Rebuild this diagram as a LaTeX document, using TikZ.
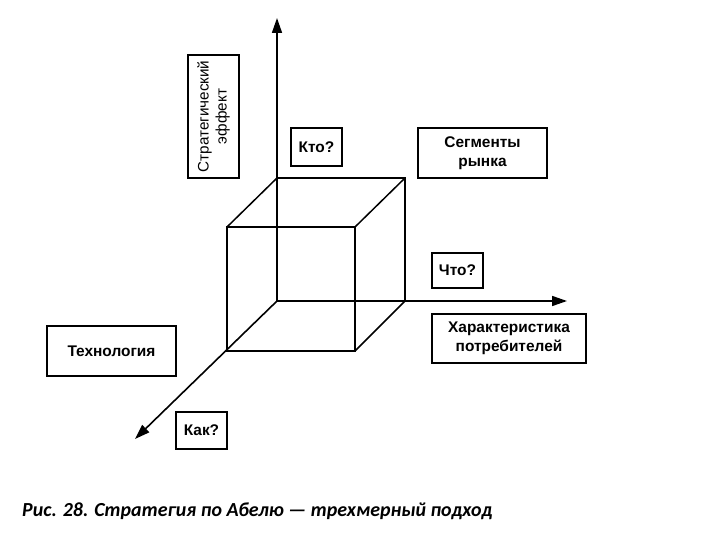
\documentclass[tikz,border=0pt]{standalone}
\usepackage{fontspec}
\setmainfont{Liberation Sans}
\newfontfamily\capfont{Carlito}
\usetikzlibrary{arrows.meta}
\begin{document}
\begin{tikzpicture}[x=1bp,y=-1bp,
  box/.style={draw, line width=1.6bp, inner sep=0pt, align=center,
    font=\bfseries\fontsize{15.5}{19}\selectfont},
  rbox/.style={draw, line width=1.6bp, inner sep=0pt, align=center,
    font=\fontsize{15.3}{18}\selectfont, rotate=90},
  ax/.style={line width=1.6bp, -{Triangle[length=15bp,width=10bp]}},
  cube/.style={line width=1.5bp, line join=miter}]
\useasboundingbox (0,0) rectangle (720,540);
% cube corners
\coordinate (O) at (277,301);
\coordinate (B1) at (277,178);
\coordinate (B2) at (405,178);
\coordinate (B3) at (405,301);
\coordinate (F1) at (227,227);
\coordinate (F2) at (355,227);
\coordinate (F3) at (355,351);
\coordinate (F4) at (227,351);
\coordinate (Yend) at (277,18);
\coordinate (Xend) at (567,301);
\coordinate (Zend) at (135,439);
% axes
\draw[ax] (O) -- (Yend);
\draw[ax] (O) -- (Xend);
\draw[ax] (O) -- (Zend);
% cube
\draw[cube] (B1) -- (B2) -- (B3);
\draw[cube] (F1) -- (F2) -- (F3) -- (F4) -- cycle;
\draw[cube] (B1) -- (F1);
\draw[cube] (B2) -- (F2);
\draw[cube] (B3) -- (F3);
% labels
\node[rbox, minimum width=123bp, minimum height=51bp] (eff) at (213.5,116.5) {Стратегический\\эффект};
\node[box, minimum width=51bp, minimum height=38bp] (who) at (316.5,147) {Кто?};
\node[box, minimum width=129bp, minimum height=50bp] (seg) at (482.5,153) {Сегменты\\рынка};
\node[box, minimum width=51bp, minimum height=35bp] (what) at (457.5,270.5) {Что?};
\node[box, minimum width=154bp, minimum height=49bp] (char) at (509,338.5) {Характеристика\\потребителей};
\node[box, minimum width=129bp, minimum height=50bp] (tech) at (111.5,351) {Технология};
\node[box, minimum width=51bp, minimum height=37bp] (how) at (201.5,430.5) {Как?};
\node[anchor=base west, inner sep=0pt, font=\capfont\bfseries\itshape\fontsize{20}{23}\selectfont] (cap) at (22,516)
  {Рис. 28. Стратегия по Абелю — трехмерный подход};
\end{tikzpicture}
\end{document}
